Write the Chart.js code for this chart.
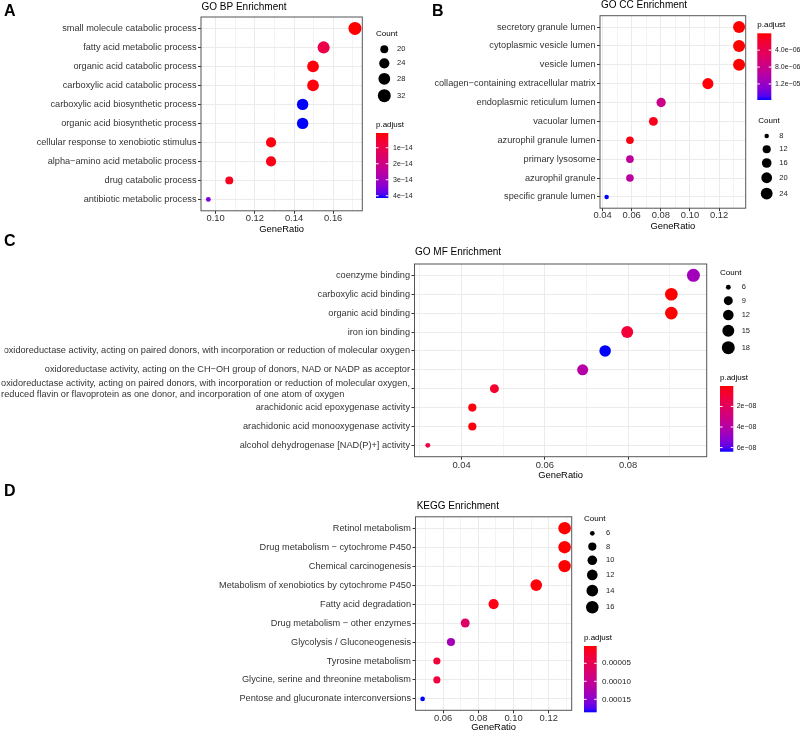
<!DOCTYPE html>
<html>
<head>
<meta charset="utf-8">
<title>GO / KEGG enrichment dot plots</title>
<script src="https://cdn.jsdelivr.net/npm/chart.js@4.4.1/dist/chart.umd.min.js"></script>
<style>
  html, body { margin: 0; padding: 0; background: #fff; }
  #page { position: relative; width: 800px; height: 734px; }
  #page canvas { position: absolute; left: 0; top: 0; }
</style>
</head>
<body>
<div id="page">
  <canvas id="bp" width="800" height="734"></canvas>
  <canvas id="cc" width="800" height="734"></canvas>
  <canvas id="mf" width="800" height="734"></canvas>
  <canvas id="kegg" width="800" height="734"></canvas>
</div>
<script>
/**
 * GO BP enrichment
 */
const bpTerms = [
    'small molecule catabolic process',
    'fatty acid metabolic process',
    'organic acid catabolic process',
    'carboxylic acid catabolic process',
    'carboxylic acid biosynthetic process',
    'organic acid biosynthetic process',
    'cellular response to xenobiotic stimulus',
    'alpha−amino acid metabolic process',
    'drug catabolic process',
    'antibiotic metabolic process'
];
const bpRatio = [0.1711, 0.1551, 0.1497, 0.1497, 0.1444, 0.1444, 0.1283, 0.1283, 0.1070, 0.0963];
const bpCount = [32, 29, 28, 28, 27, 27, 24, 24, 20, 18];
const bpPadj = [8e-16, 9.5e-15, 1.5e-15, 1.5e-15, 4.14e-14, 4.14e-14, 2.0e-15, 2.5e-15, 3.6e-15, 3.5e-14];
const bpXTicks = [0.10, 0.12, 0.14, 0.16];
const bpCountTicks = [20, 24, 28, 32];
const bpPadjTicks = [1e-14, 2e-14, 3e-14, 4e-14];
const bpPadjLabels = ['1e−14', '2e−14', '3e−14', '4e−14'];

/**
 * GO CC enrichment
 */
const ccTerms = [
    'secretory granule lumen',
    'cytoplasmic vesicle lumen',
    'vesicle lumen',
    'collagen−containing extracellular matrix',
    'endoplasmic reticulum lumen',
    'vacuolar lumen',
    'azurophil granule lumen',
    'primary lysosome',
    'azurophil granule',
    'specific granule lumen'
];
const ccRatio = [0.1337, 0.1337, 0.1337, 0.1123, 0.0802, 0.0749, 0.0588, 0.0588, 0.0588, 0.0428];
const ccCount = [25, 25, 25, 21, 15, 14, 11, 11, 11, 8];
const ccPadj = [1.2e-8, 1.2e-8, 2.5e-8, 1.5e-7, 7.9e-6, 8e-7, 5e-7, 9.2e-6, 9.5e-6, 1.58e-5];
const ccXTicks = [0.04, 0.06, 0.08, 0.10, 0.12];
const ccCountTicks = [8, 12, 16, 20, 24];
const ccPadjTicks = [4e-6, 8e-6, 1.2e-5];
const ccPadjLabels = ['4.0e−06', '8.0e−06', '1.2e−05'];

/**
 * GO MF enrichment
 */
const mfTerms = [
    'coenzyme binding',
    'carboxylic acid binding',
    'organic acid binding',
    'iron ion binding',
    'oxidoreductase activity, acting on paired donors, with incorporation or reduction of molecular oxygen',
    'oxidoreductase activity, acting on the CH−OH group of donors, NAD or NADP as acceptor',
    'oxidoreductase activity, acting on paired donors, with incorporation or reduction of molecular oxygen,\nreduced flavin or flavoprotein as one donor, and incorporation of one atom of oxygen',
    'arachidonic acid epoxygenase activity',
    'arachidonic acid monooxygenase activity',
    'alcohol dehydrogenase [NAD(P)+] activity'
];
const mfRatio = [0.0957, 0.0904, 0.0904, 0.0798, 0.0745, 0.0691, 0.0479, 0.0426, 0.0426, 0.0319];
const mfCount = [18, 17, 17, 15, 14, 13, 9, 8, 8, 6];
const mfPadj = [4.6e-8, 1e-10, 1e-10, 9.6e-9, 6.4e-8, 4.0e-8, 7.7e-9, 1.5e-9, 1.5e-9, 1.3e-8];
const mfXTicks = [0.04, 0.06, 0.08];
const mfCountTicks = [6, 9, 12, 15, 18];
const mfPadjTicks = [2e-8, 4e-8, 6e-8];
const mfPadjLabels = ['2e−08', '4e−08', '6e−08'];

/**
 * KEGG enrichment
 */
const keggTerms = [
    'Retinol metabolism',
    'Drug metabolism − cytochrome P450',
    'Chemical carcinogenesis',
    'Metabolism of xenobiotics by cytochrome P450',
    'Fatty acid degradation',
    'Drug metabolism − other enzymes',
    'Glycolysis / Gluconeogenesis',
    'Tyrosine metabolism',
    'Glycine, serine and threonine metabolism',
    'Pentose and glucuronate interconversions'
];
const keggRatio = [0.1290, 0.1290, 0.1290, 0.1129, 0.0887, 0.0726, 0.0645, 0.0565, 0.0565, 0.0484];
const keggCount = [16, 16, 16, 14, 11, 9, 8, 7, 7, 6];
const keggPadj = [2e-6, 2e-6, 2.5e-6, 5e-6, 8e-6, 6.6e-5, 1.31e-4, 2.96e-5, 3.5e-5, 1.86e-4];
const keggXTicks = [0.06, 0.08, 0.10, 0.12];
const keggCountTicks = [6, 8, 10, 12, 14, 16];
const keggPadjTicks = [5e-5, 1e-4, 1.5e-4];
const keggPadjLabels = ['0.00005', '0.00010', '0.00015'];

const FONT = '"Liberation Sans", Arial, Helvetica, sans-serif';
const TICK_COLOR = '#333';

/**
 * Red -> blue gradient interpolated in Lab space (like ggplot's scale_colour_gradient).
 */
function toLinear(c) { c /= 255; return c <= 0.04045 ? c / 12.92 : Math.pow((c + 0.055) / 1.055, 2.4); }
function toSrgb(c) {
    c = c <= 0.0031308 ? 12.92 * c : 1.055 * Math.pow(c, 1 / 2.4) - 0.055;
    return Math.round(Math.max(0, Math.min(1, c)) * 255);
}
function rgbToLab(rgb) {
    const [r, g, b] = rgb.map(toLinear);
    const x = (0.4124 * r + 0.3576 * g + 0.1805 * b) / 0.95047;
    const y = 0.2126 * r + 0.7152 * g + 0.0722 * b;
    const z = (0.0193 * r + 0.1192 * g + 0.9505 * b) / 1.08883;
    const f = t => t > 0.008856 ? Math.cbrt(t) : 7.787 * t + 16 / 116;
    return [116 * f(y) - 16, 500 * (f(x) - f(y)), 200 * (f(y) - f(z))];
}
function labToRgb(lab) {
    const fy = (lab[0] + 16) / 116, fx = fy + lab[1] / 500, fz = fy - lab[2] / 200;
    const inv = t => t * t * t > 0.008856 ? t * t * t : (t - 16 / 116) / 7.787;
    const x = inv(fx) * 0.95047, y = inv(fy), z = inv(fz) * 1.08883;
    return [
        toSrgb(3.2406 * x - 1.5372 * y - 0.4986 * z),
        toSrgb(-0.9689 * x + 1.8758 * y + 0.0415 * z),
        toSrgb(0.0557 * x - 0.2040 * y + 1.0570 * z)
    ];
}
const LAB_LOW = rgbToLab([255, 0, 0]);
const LAB_HIGH = rgbToLab([0, 0, 255]);
function redBlue(t) {
    t = Math.max(0, Math.min(1, t));
    const c = labToRgb(LAB_LOW.map((v, i) => v + (LAB_HIGH[i] - v) * t));
    return 'rgb(' + c.join(',') + ')';
}

function drawText(ctx, s, x, y, size, color, align, weight) {
    ctx.font = (weight || 'normal') + ' ' + size + 'px ' + FONT;
    ctx.fillStyle = color;
    ctx.textAlign = align || 'left';
    ctx.textBaseline = 'middle';
    ctx.fillText(s, x, y);
}

/**
 * Layout of each panel (page coordinates).
 */
const panels = [
    {
        canvas: 'bp', tag: 'A', tagX: 4, tagY: 12, title: 'GO BP Enrichment', titleX: 201.5, titleY: 7.5,
        terms: bpTerms, ratio: bpRatio, count: bpCount, padj: bpPadj, xTicks: bpXTicks,
        countTicks: bpCountTicks, padjTicks: bpPadjTicks, padjLabels: bpPadjLabels,
        area: { left: 201, right: 362.3, top: 17, bottom: 210.8 }, yWidth: 190,
        tickGap: 7.7, axisTitleGap: 18.5, k: 0.8125,
        sizeKey: { titleX: 376, titleY: 34, cx: 384.3, firstY: 49.3, labelX: 397 },
        colorBar: { titleX: 376, titleY: 124.3, x: 376, w: 12.3, top: 133, bottom: 198, labelX: 393, font: 7 }
    },
    {
        canvas: 'cc', tag: 'B', tagX: 432, tagY: 12, title: 'GO CC Enrichment', titleX: 601, titleY: 5.5,
        terms: ccTerms, ratio: ccRatio, count: ccCount, padj: ccPadj, xTicks: ccXTicks,
        countTicks: ccCountTicks, padjTicks: ccPadjTicks, padjLabels: ccPadjLabels,
        area: { left: 600, right: 745.7, top: 15.7, bottom: 208.2 }, yWidth: 175,
        tickGap: 6.8, axisTitleGap: 18.5, k: 0.75,
        sizeKey: { titleX: 758.3, titleY: 121, cx: 766.7, firstY: 136, labelX: 779.3 },
        colorBar: { titleX: 757.3, titleY: 25, x: 757.3, w: 14, top: 33.3, bottom: 100, labelX: 775, font: 7 }
    },
    {
        canvas: 'mf', tag: 'C', tagX: 4, tagY: 241.7, title: 'GO MF Enrichment', titleX: 415, titleY: 252.7,
        terms: mfTerms, ratio: mfRatio, count: mfCount, padj: mfPadj, xTicks: mfXTicks,
        countTicks: mfCountTicks, padjTicks: mfPadjTicks, padjLabels: mfPadjLabels,
        area: { left: 414.5, right: 706.7, top: 264, bottom: 456.7 }, yWidth: 410,
        tickGap: 8.3, axisTitleGap: 18.3, k: 0.8125,
        sizeKey: { titleX: 720, titleY: 272.7, cx: 728.3, firstY: 287.3, labelX: 741.7 },
        colorBar: { titleX: 720, titleY: 377.3, x: 720, w: 13.3, top: 386, bottom: 451.7, labelX: 736.7, font: 7 }
    },
    {
        canvas: 'kegg', tag: 'D', tagX: 4, tagY: 492, title: 'KEGG Enrichment', titleX: 416.7, titleY: 506.7,
        terms: keggTerms, ratio: keggRatio, count: keggCount, padj: keggPadj, xTicks: keggXTicks,
        countTicks: keggCountTicks, padjTicks: keggPadjTicks, padjLabels: keggPadjLabels,
        area: { left: 415.5, right: 571.7, top: 516.8, bottom: 710.3 }, yWidth: 200,
        tickGap: 8, axisTitleGap: 17, k: 0.78,
        sizeKey: { titleX: 584, titleY: 519, cx: 592.3, firstY: 533.3, labelX: 606 },
        colorBar: { titleX: 584, titleY: 637.7, x: 584, w: 12.7, top: 646, bottom: 712.3, labelX: 602, font: 8 }
    }
];

/**
 * Draws border, title, panel tag, wrapped label and both legends.
 */
function decorPlugin(p, radius, pMin, pMax) {
    return {
        id: 'decor',
        afterDraw(chart) {
            const ctx = chart.ctx, a = chart.chartArea;
            ctx.save();

            ctx.strokeStyle = '#555';
            ctx.lineWidth = 1;
            ctx.strokeRect(a.left, a.top, a.right - a.left, a.bottom - a.top);

            drawText(ctx, p.title, p.titleX, p.titleY, 10, '#000');
            drawText(ctx, p.tag, p.tagX, p.tagY, 16, '#000', 'left', 'bold');

            // long label: two lines, left aligned to each other
            p.terms.forEach((t, i) => {
                if (t.indexOf('\n') < 0) return;
                const lines = t.split('\n');
                const y = chart.scales.y.getPixelForValue(i);
                ctx.font = '9.2px ' + FONT;
                const x0 = a.left - 4.5 - ctx.measureText(lines[0]).width;
                drawText(ctx, lines[0], x0, y - 5.5, 9.2, TICK_COLOR);
                drawText(ctx, lines[1], x0, y + 5.5, 9.2, TICK_COLOR);
            });

            // Count legend
            const s = p.sizeKey;
            drawText(ctx, 'Count', s.titleX, s.titleY, 8, '#000');
            const keyH = r => Math.max(13.3, 2 * r + 4.5);
            let y = s.firstY, prev = null;
            p.countTicks.forEach(c => {
                const r = radius(c);
                if (prev !== null) y += (keyH(prev) + keyH(r)) / 2;
                ctx.fillStyle = '#000';
                ctx.beginPath();
                ctx.arc(s.cx, y, r, 0, Math.PI * 2);
                ctx.fill();
                drawText(ctx, String(c), s.labelX, y, 7.5, '#1a1a1a');
                prev = r;
            });

            // p.adjust colour bar (low values at the top)
            const b = p.colorBar;
            drawText(ctx, 'p.adjust', b.titleX, b.titleY, 8, '#000');
            const grad = ctx.createLinearGradient(0, b.top, 0, b.bottom);
            for (let i = 0; i <= 20; i++) grad.addColorStop(i / 20, redBlue(i / 20));
            ctx.fillStyle = grad;
            ctx.fillRect(b.x, b.top, b.w, b.bottom - b.top);
            p.padjTicks.forEach((v, i) => {
                const ty = b.top + (v - pMin) / (pMax - pMin) * (b.bottom - b.top);
                ctx.strokeStyle = '#fff';
                ctx.lineWidth = 1;
                ctx.beginPath();
                ctx.moveTo(b.x, ty); ctx.lineTo(b.x + 2.6, ty);
                ctx.moveTo(b.x + b.w - 2.6, ty); ctx.lineTo(b.x + b.w, ty);
                ctx.stroke();
                drawText(ctx, p.padjLabels[i], b.labelX, ty, b.font, '#1a1a1a');
            });

            ctx.restore();
        }
    };
}

function makeChart(p) {
    const n = p.terms.length;
    const lo = Math.min(...p.ratio), hi = Math.max(...p.ratio);
    const pad = (hi - lo) * 0.05;
    const xMin = lo - pad, xMax = hi + pad;
    const cMin = Math.min(...p.count), cMax = Math.max(...p.count);
    const pMin = Math.min(...p.padj), pMax = Math.max(...p.padj);
    const radius = c => p.k * (3 + 5 * Math.sqrt((c - cMin) / (cMax - cMin)));

    const points = p.terms.map((t, i) => ({ x: p.ratio[i], y: i, r: radius(p.count[i]) }));
    const colors = p.padj.map(v => redBlue((v - pMin) / (pMax - pMin)));

    const xHeight = p.axisTitleGap + 4.7;
    const a = p.area;

    return new Chart(document.getElementById(p.canvas), {
        type: 'bubble',
        data: {
            datasets: [{
                data: points,
                backgroundColor: colors,
                borderWidth: 0,
                hoverBorderWidth: 0,
                hoverRadius: 0
            }]
        },
        options: {
            responsive: false,
            animation: false,
            events: [],
            layout: {
                padding: {
                    left: a.left - p.yWidth,
                    top: a.top,
                    right: 800 - a.right,
                    bottom: 734 - a.bottom - xHeight
                }
            },
            plugins: {
                legend: { display: false },
                tooltip: { enabled: false },
                title: { display: false }
            },
            scales: {
                x: {
                    type: 'linear',
                    min: xMin,
                    max: xMax,
                    afterBuildTicks: scale => {
                        const step = p.xTicks[1] - p.xTicks[0];
                        const ticks = [];
                        const first = p.xTicks[0] - step / 2;
                        for (let k = 0; first + k * step / 2 <= xMax + 1e-9; k++) {
                            const v = Math.round((first + k * step / 2) * 10000) / 10000;
                            if (v < xMin) continue;
                            ticks.push({ value: v, minor: k % 2 === 0 });
                        }
                        scale.ticks = ticks;
                    },
                    afterFit: scale => { scale.height = xHeight; },
                    ticks: {
                        autoSkip: false,
                        maxRotation: 0,
                        minRotation: 0,
                        padding: p.tickGap - 7.7,
                        color: TICK_COLOR,
                        font: { family: FONT, size: 9.4, lineHeight: 1 },
                        callback: (value, index, ticks) => ticks[index].minor ? '' : value.toFixed(2)
                    },
                    grid: {
                        color: '#ebebeb',
                        lineWidth: ctx => ctx.tick && ctx.tick.minor ? 0.6 : 1,
                        tickColor: ctx => ctx.tick && ctx.tick.minor ? 'rgba(0,0,0,0)' : '#333',
                        tickWidth: 1,
                        tickLength: 3
                    },
                    border: { display: false },
                    title: {
                        display: true,
                        text: 'GeneRatio',
                        color: '#000',
                        padding: 0,
                        font: { family: FONT, size: 9.4, lineHeight: 1 }
                    }
                },
                y: {
                    type: 'linear',
                    reverse: true,
                    min: -0.6,
                    max: n - 0.4,
                    afterBuildTicks: scale => { scale.ticks = p.terms.map((t, i) => ({ value: i })); },
                    afterFit: scale => { scale.width = p.yWidth; },
                    ticks: {
                        autoSkip: false,
                        padding: 1.5,
                        color: TICK_COLOR,
                        font: { family: FONT, size: 9.2 },
                        callback: value => {
                            const t = p.terms[value];
                            return t.indexOf('\n') >= 0 ? '' : t;
                        }
                    },
                    grid: {
                        color: '#ebebeb',
                        lineWidth: 1,
                        tickColor: '#333',
                        tickWidth: 1,
                        tickLength: 3
                    },
                    border: { display: false }
                }
            }
        },
        plugins: [decorPlugin(p, radius, pMin, pMax)]
    });
}

window.onload = function () {
    panels.forEach(makeChart);
};
</script>
</body>
</html>
